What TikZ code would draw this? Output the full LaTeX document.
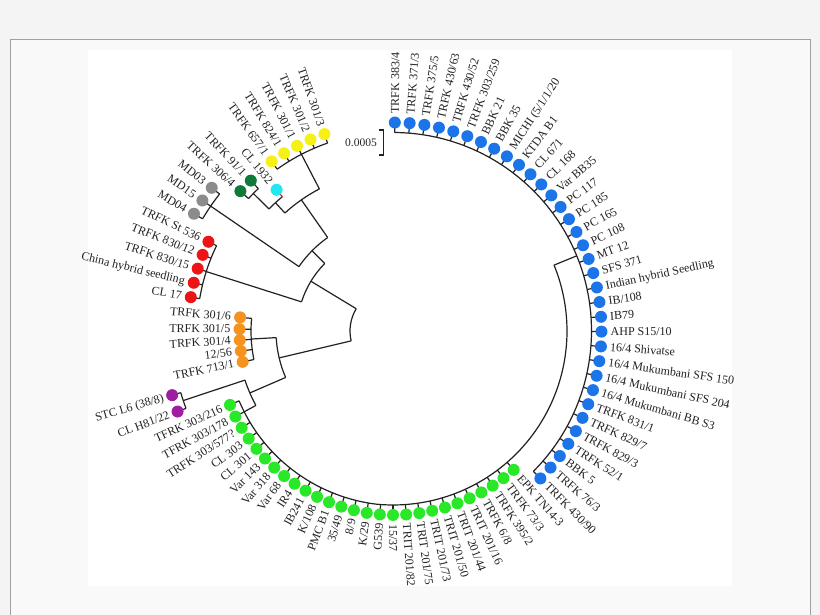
\documentclass[tikz,border=0pt]{standalone}
\usepackage{fontspec}
\setmainfont{Liberation Serif}
\definecolor{cblue}{RGB}{28,117,232}
\definecolor{cgreen}{RGB}{40,232,40}
\definecolor{cyel}{RGB}{246,240,22}
\definecolor{ccyan}{RGB}{34,232,242}
\definecolor{cdkg}{RGB}{16,122,58}
\definecolor{cgray}{RGB}{140,140,140}
\definecolor{cred}{RGB}{236,20,20}
\definecolor{corange}{RGB}{246,146,30}
\definecolor{cpurp}{RGB}{160,28,160}
\definecolor{ink}{RGB}{34,34,34}
\definecolor{pagebg}{RGB}{244,244,244}
\definecolor{framebg}{RGB}{249,249,249}
\definecolor{frameln}{RGB}{160,160,160}
\tikzset{
  tipdot/.style={circle, inner sep=0pt, minimum size=12pt},
  lbl/.style={font=\fontsize{12pt}{14pt}\selectfont, text=ink, inner sep=0pt, text height=8pt, text depth=0pt},
  br/.style={draw=ink, line width=1.2pt},
}
% name, angle, rdot, rnode, colour, label, tick colour
\newcommand\tipleaf[7]{%
  \pgfmathsetmacro\tang{#2}%
  \pgfmathsetmacro\tdot{#3}%
  \pgfmathsetmacro\tnod{#4}%
  \pgfmathsetmacro\tlab{#3+9}%
  \pgfmathsetmacro\tcos{cos(\tang)}%
  \draw[br, draw=#7] ([shift={(\tang:\tnod pt)}]C) -- ([shift={(\tang:\tdot pt)}]C);
  \node[tipdot, fill=#5] (#1) at ([shift={(\tang:\tdot pt)}]C) {};
  \ifdim\tcos pt>-0.01pt
    \node[lbl, anchor=west, rotate=\tang] (#1t) at ([shift={(\tang:\tlab pt)}]C) {#6};
  \else
    \pgfmathsetmacro\trot{\tang+180}%
    \node[lbl, anchor=east, rotate=\trot] (#1t) at ([shift={(\tang:\tlab pt)}]C) {#6};
  \fi
}
\newcommand\blueleaf[3]{%
  \pgfmathsetmacro\bang{89.5-4.076*#2}%
  \tipleaf{#1}{\bang}{208.5}{198.5}{cblue}{#3}{ink}}
\newcommand\greenleaf[3]{%
  \pgfmathsetmacro\gang{-49-4.1*#2}%
  \pgfmathsetmacro\grad{169+5*min(1,(\gang+155.6)/60)}%
  \pgfmathsetmacro\gdot{\grad+10}%
  \tipleaf{#1}{\gang}{\gdot}{\grad}{cgreen}{#3}{ink}}
\newcommand\brarc[3]{\draw[br] ([shift={(#2:#1 pt)}]C) arc[start angle=#2, end angle=#3, radius=#1 pt];}
\newcommand\brrad[3]{\draw[br] ([shift={(#1:#2 pt)}]C) -- ([shift={(#1:#3 pt)}]C);}
\begin{document}
\begin{tikzpicture}[x=1pt,y=1pt]
\useasboundingbox (0,0) rectangle (820,615);
\fill[pagebg] (0,0) rectangle (820,615);
\fill[framebg] (10,0) rectangle (810,575);
\draw[frameln, line width=1pt] (10,0) -- (10,575) -- (810,575) -- (810,0);
\fill[white] (88,29) rectangle (732,565);
\coordinate (C) at (393,284);

% ---- internal branches ----
% blue clade and ladder
\brarc{198.5}{89.5}{-45}
\brrad{22.25}{174}{198.5}
\draw[br] plot[domain=-155.6:22.25, samples=140, variable=\t]
  ({393+(169+5*min(1,(\t+155.6)/60))*cos(\t)}, {284+(169+5*min(1,(\t+155.6)/60))*sin(\t)});
\brrad{-151.5}{156}{169.3}
% P_g
\brarc{156}{-161.65}{-151.5}
\brrad{-161.65}{156}{221}
\brarc{221}{-163.8}{-159.5}
\brrad{-156.6}{117}{156}
% P_f
\brarc{117}{-176.75}{-156.6}
\brrad{-176.75}{117}{142}
\brarc{142}{174.9}{191.6}
\brrad{-166.7}{43}{117}
% root P_e
\brarc{43}{148.8}{193.3}
\brrad{148.8}{43}{96}
% P_d
\brarc{96}{135.3}{162.35}
\brrad{162.35}{96}{196}
\brarc{196}{154.2}{170.5}
\brrad{135.3}{96}{114}
% P_c
\brarc{114}{124.95}{145.6}
\brrad{145.6}{114}{221}
\brarc{221}{141.7}{149.5}
\brrad{124.95}{114}{160}
% P_b
\brarc{160}{117.4}{132.5}
\brrad{117.4}{160}{199}
\brarc{199}{109.2}{125.6}
\brrad{132.5}{160}{174}
% P_a
\brarc{174}{129.5}{135.45}
\brrad{135.45}{174}{196}
\brarc{196}{133.4}{137.5}

% ---- blue tips ----
\blueleaf{b0}{0}{TRFK 383/4}
\blueleaf{b1}{1}{TRFK 371/3}
\blueleaf{b2}{2}{TRFK 375/5}
\blueleaf{b3}{3}{TRFK 430/63}
\blueleaf{b4}{4}{TRFK 430/52}
\blueleaf{b5}{5}{TRFK 303/259}
\blueleaf{b6}{6}{BBK 21}
\blueleaf{b7}{7}{BBK 35}
\blueleaf{b8}{8}{MICHI (5/1/1/20}
\blueleaf{b9}{9}{KTDA B1}
\blueleaf{b10}{10}{CL 671}
\blueleaf{b11}{11}{CL 168}
\blueleaf{b12}{12}{Var BB35}
\blueleaf{b13}{13}{PC 117}
\blueleaf{b14}{14}{PC 185}
\blueleaf{b15}{15}{PC 165}
\blueleaf{b16}{16}{PC 108}
\blueleaf{b17}{17}{MT 12}
\blueleaf{b18}{18}{SFS 371}
\blueleaf{b19}{19}{Indian hybrid Seedling}
\blueleaf{b20}{20}{IB/108}
\blueleaf{b21}{21}{IB79}
\blueleaf{b22}{22}{AHP S15/10}
\blueleaf{b23}{23}{16/4 Shivatse}
\blueleaf{b24}{24}{16/4 Mukumbani SFS 150}
\blueleaf{b25}{25}{16/4 Mukumbani SFS 204}
\blueleaf{b26}{26}{16/4 Mukumbani BB S3}
\blueleaf{b27}{27}{TRFK 831/1}
\blueleaf{b28}{28}{TRFK 829/7}
\blueleaf{b29}{29}{TRFK 829/3}
\blueleaf{b30}{30}{TRFK 52/1}
\blueleaf{b31}{31}{BBK 5}
\blueleaf{b32}{32}{TRFK 76/3}
\blueleaf{b33}{33}{TRFK 430/90}

% ---- green tips ----
\greenleaf{g0}{0}{EPK TN14-3}
\greenleaf{g1}{1}{TRFK 73/3}
\greenleaf{g2}{2}{TRFK 395/2}
\greenleaf{g3}{3}{TRFK 6/8}
\greenleaf{g4}{4}{TRIT 201/16}
\greenleaf{g5}{5}{TRIT 201/44}
\greenleaf{g6}{6}{TRIT 201/50}
\greenleaf{g7}{7}{TRIT 201/73}
\greenleaf{g8}{8}{TRIT 201/75}
\greenleaf{g9}{9}{TRIT 201/82}
\greenleaf{g10}{10}{15/37}
\greenleaf{g11}{11}{G539}
\greenleaf{g12}{12}{K/29}
\greenleaf{g13}{13}{8/9}
\greenleaf{g14}{14}{35/49}
\greenleaf{g15}{15}{PMC B1}
\greenleaf{g16}{16}{K/108}
\greenleaf{g17}{17}{IB241}
\greenleaf{g18}{18}{IR4}
\greenleaf{g19}{19}{Var 68}
\greenleaf{g20}{20}{Var 318}
\greenleaf{g21}{21}{Var 143}
\greenleaf{g22}{22}{CL 301}
\greenleaf{g23}{23}{CL 303}
\greenleaf{g24}{24}{TRFK 303/577?}
\greenleaf{g25}{25}{TFRK 303/178}
\greenleaf{g26}{26}{TFRK 303/216}

% ---- purple ----
\tipleaf{p1}{-159.5}{230}{221}{cpurp}{CL H81/22}{ink}
\tipleaf{p2}{-163.8}{230}{221}{cpurp}{STC L6 (38/8)}{ink}
% ---- orange ----
\tipleaf{o1}{-168.4}{153.5}{142}{corange}{TRFK 713/1}{ink}
\tipleaf{o2}{-172.5}{153.5}{142}{corange}{12/56}{ink}
\tipleaf{o3}{-176.6}{153.5}{142}{corange}{TRFK 301/4}{ink}
\tipleaf{o4}{179.3}{153.5}{142}{corange}{TRFK 301/5}{ink}
\tipleaf{o5}{174.9}{153.5}{142}{corange}{TRFK 301/6}{ink}
% ---- red ----
\tipleaf{r1}{170.5}{205}{196}{cred}{CL 17}{ink}
\tipleaf{r2}{166.4}{205}{196}{cred}{China hybrid seedling}{ink}
\tipleaf{r3}{162.3}{205}{196}{cred}{TRFK 830/15}{ink}
\tipleaf{r4}{158.2}{205}{196}{cred}{TRFK 830/12}{ink}
\tipleaf{r5}{154.2}{205}{196}{cred}{TRFK St 536}{ink}
% ---- grey ----
\tipleaf{m1}{149.5}{231}{221}{cgray}{MD04}{ink}
\tipleaf{m2}{145.6}{231}{221}{cgray}{MD15}{ink}
\tipleaf{m3}{141.7}{231}{221}{cgray}{MD03}{ink}
% ---- dark green ----
\tipleaf{d1}{137.5}{207}{196}{cdkg}{TRFK 306/4}{ink}
\tipleaf{d2}{133.4}{207}{196}{cdkg}{TRFK 91/1}{ink}
% ---- cyan ----
\tipleaf{c1}{129.5}{183}{174}{ccyan}{CL 1932}{cred}
% ---- yellow ----
\tipleaf{y1}{125.6}{208.5}{199}{cyel}{TRFK 657/1}{ink}
\tipleaf{y2}{121.5}{208.5}{199}{cyel}{TRFK 824/1}{ink}
\tipleaf{y3}{117.4}{208.5}{199}{cyel}{TRFK 301/1}{ink}
\tipleaf{y4}{113.3}{208.5}{199}{cyel}{TRFK 301/2}{ink}
\tipleaf{y5}{109.2}{208.5}{199}{cyel}{TRFK 301/3}{ink}

% ---- scale bar ----
\coordinate (sbt) at (383.5,485);
\coordinate (sbb) at (383.5,460);
\draw[br] ([xshift=-5pt]sbt) -- (sbt) -- (sbb) -- ([xshift=-5pt]sbb);
\node[font=\fontsize{11.5pt}{13pt}\selectfont, text=ink, anchor=east, inner sep=0pt] (sbl) at (377,472) {0.0005};
\end{tikzpicture}
\end{document}
